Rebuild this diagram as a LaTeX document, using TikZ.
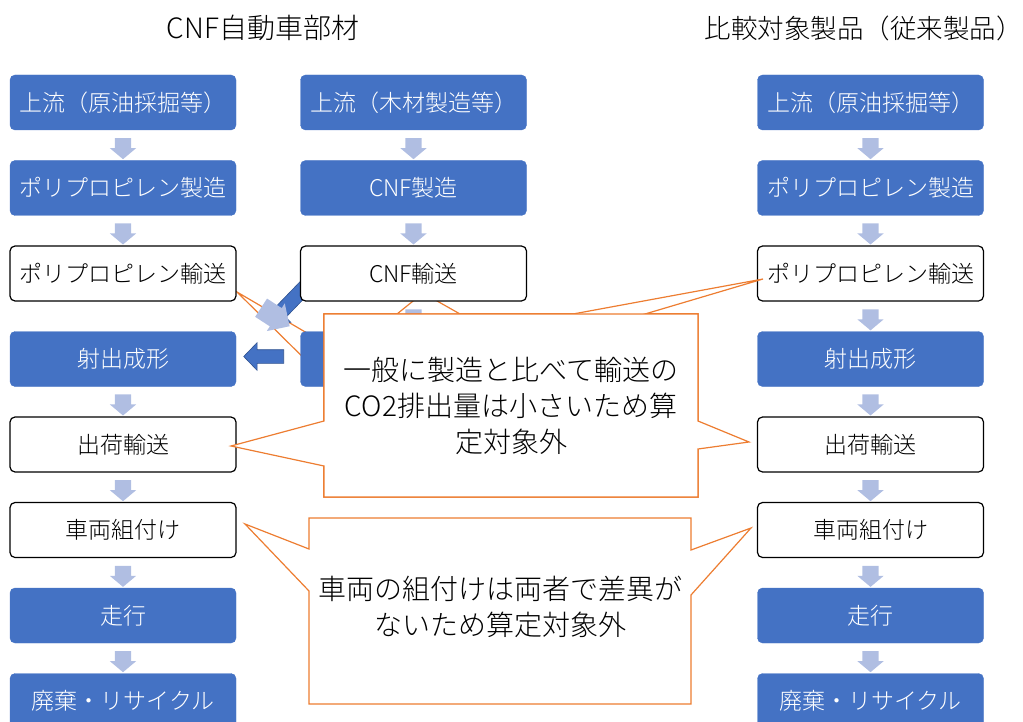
\documentclass[tikz,border=0pt]{standalone}
\usepackage{fontspec}
\setmainfont{Noto Sans CJK JP}[UprightFont=* Light]
\usetikzlibrary{shapes,arrows,calc,positioning}
\definecolor{boxblue}{HTML}{4472C4}
\definecolor{arrlight}{HTML}{B0BEE2}
\definecolor{arrdark}{HTML}{2F528F}
\definecolor{noteorange}{HTML}{ED7D31}
\tikzstyle{stage} = [rectangle, rounded corners=5pt, minimum width=226pt, minimum height=55pt, inner sep=0pt,
text centered, font=\fontsize{23}{27}\selectfont]
\tikzstyle{bluestage} = [stage, draw=boxblue, fill=boxblue, text=white]
\tikzstyle{whitestage} = [stage, draw=black, fill=white, line width=1.2pt]
\tikzstyle{blockarrow} = [single arrow, inner xsep=0pt]
\tikzstyle{flowarrow} = [blockarrow, fill=arrlight, inner ysep=8pt, minimum height=21pt, minimum width=26pt,
single arrow head extend=5pt, single arrow tip angle=100]
\tikzstyle{downarrow} = [flowarrow, rotate=-90]
\tikzstyle{darkarrow} = [blockarrow, fill=boxblue, draw=arrdark, line width=0.6pt]
\tikzstyle{callout} = [draw=noteorange, fill=white, line width=1.2pt, line join=miter]
\tikzstyle{notetext} = [align=center, font=\fontsize{28}{36}\selectfont]
\tikzstyle{heading} = [font=\fontsize{26.5}{32}\selectfont]

\begin{document}
\begin{tikzpicture}[x=1pt,y=-1pt]
\useasboundingbox (0,0) rectangle (1023,722);
\clip (0,0) rectangle (1023,722);
% headings
\node[heading, font=\fontsize{28}{32}\selectfont] (headCNF) at (263,28) {CNF自動車部材};
\node[heading, anchor=east, inner xsep=0pt] (headConv) at (1023,28) {比較対象製品（従来製品）};
% callouts lying under the boxes
\draw[callout] (324,314) -- (698,314) -- (698,497) -- (324,497) -- (324,378) -- (237,292) -- (324,343) -- cycle;
\draw[callout] (324,314) -- (397,314) -- (423,293) -- (460,314) -- (698,314) -- (698,497) -- (324,497) -- cycle;
\node[darkarrow, rotate=-134, minimum height=56pt, inner ysep=7pt, minimum width=16pt,
    single arrow tip angle=90] (cnfToLeft) at (292.5,300) {};
% CNF part, polypropylene line
\node[bluestage] (L1) at (123,102.5) {上流（原油採掘等）};
\node[bluestage] (L2) at (123,188) {ポリプロピレン製造};
\node[whitestage] (L3) at (123,273.5) {ポリプロピレン輸送};
\node[bluestage] (L4) at (123,359) {射出成形};
\node[whitestage] (L5) at (123,444.5) {出荷輸送};
\node[whitestage] (L6) at (123,530) {車両組付け};
\node[bluestage] (L7) at (123,615.5) {走行};
\node[bluestage] (L8) at (123,701) {廃棄・リサイクル};
% CNF part, CNF line
\node[bluestage] (C1) at (413.5,102.5) {上流（木材製造等）};
\node[bluestage] (C2) at (413.5,188) {CNF製造};
\node[whitestage] (C3) at (413.5,273.5) {CNF輸送};
\node[bluestage] (C4) at (413.5,359) {};
% conventional product
\node[bluestage] (R1) at (870.5,102.5) {上流（原油採掘等）};
\node[bluestage] (R2) at (870.5,188) {ポリプロピレン製造};
\node[whitestage] (R3) at (870.5,273.5) {ポリプロピレン輸送};
\node[bluestage] (R4) at (870.5,359) {射出成形};
\node[whitestage] (R5) at (870.5,444.5) {出荷輸送};
\node[whitestage] (R6) at (870.5,530) {車両組付け};
\node[bluestage] (R7) at (870.5,615.5) {走行};
\node[bluestage] (R8) at (870.5,701) {廃棄・リサイクル};
% flow arrows
\node[downarrow] (L12) at ($(L1.south)!.5!(L2.north)$) {};
\node[downarrow] (L23) at ($(L2.south)!.5!(L3.north)$) {};
\node[downarrow] (L45) at ($(L4.south)!.5!(L5.north)$) {};
\node[downarrow] (L56) at ($(L5.south)!.5!(L6.north)$) {};
\node[downarrow] (L67) at ($(L6.south)!.5!(L7.north)$) {};
\node[downarrow] (L78) at ($(L7.south)!.5!(L8.north)$) {};
\node[downarrow] (C12) at ($(C1.south)!.5!(C2.north)$) {};
\node[downarrow] (C23) at ($(C2.south)!.5!(C3.north)$) {};
\node[downarrow] (C34) at ($(C3.south)!.5!(C4.north)$) {};
\node[downarrow] (R12) at ($(R1.south)!.5!(R2.north)$) {};
\node[downarrow] (R23) at ($(R2.south)!.5!(R3.north)$) {};
\node[downarrow] (R34) at ($(R3.south)!.5!(R4.north)$) {};
\node[downarrow] (R45) at ($(R4.south)!.5!(R5.north)$) {};
\node[downarrow] (R56) at ($(R5.south)!.5!(R6.north)$) {};
\node[downarrow] (R67) at ($(R6.south)!.5!(R7.north)$) {};
\node[downarrow] (R78) at ($(R7.south)!.5!(R8.north)$) {};
\node[flowarrow, rotate=-33, minimum height=34pt, inner ysep=9.5pt, minimum width=33pt,
    single arrow tip angle=90] (L34) at (270.8,314) {};
\node[darkarrow, rotate=180, minimum height=40pt, inner ysep=6.5pt, minimum width=27pt,
    single arrow tip angle=92] (C4toL4) at (267,356.5) {};
% callouts on top
\draw[callout] (324,314) -- (573,314) -- (763,279) -- (645,314) -- (698,314) -- (698,497) -- (324,497) -- cycle;
\draw[callout] (324,314) -- (698,314) -- (698,421) -- (749,442) -- (698,449) -- (698,497) -- (324,497)
    -- (324,466) -- (231,446) -- (324,421) -- cycle;
\node[notetext] (note1) at (511,405.5) {一般に製造と比べて輸送の\\CO2排出量は小さいため算\\定対象外};
\draw[callout] (309,518) -- (691,518) -- (691,550) -- (751,528) -- (691,595) -- (691,704) -- (309,704)
    -- (309,591) -- (245,524) -- (309,549) -- cycle;
\node[notetext] (note2) at (500,607) {車両の組付けは両者で差異が\\ないため算定対象外};
\end{tikzpicture}
\end{document}
